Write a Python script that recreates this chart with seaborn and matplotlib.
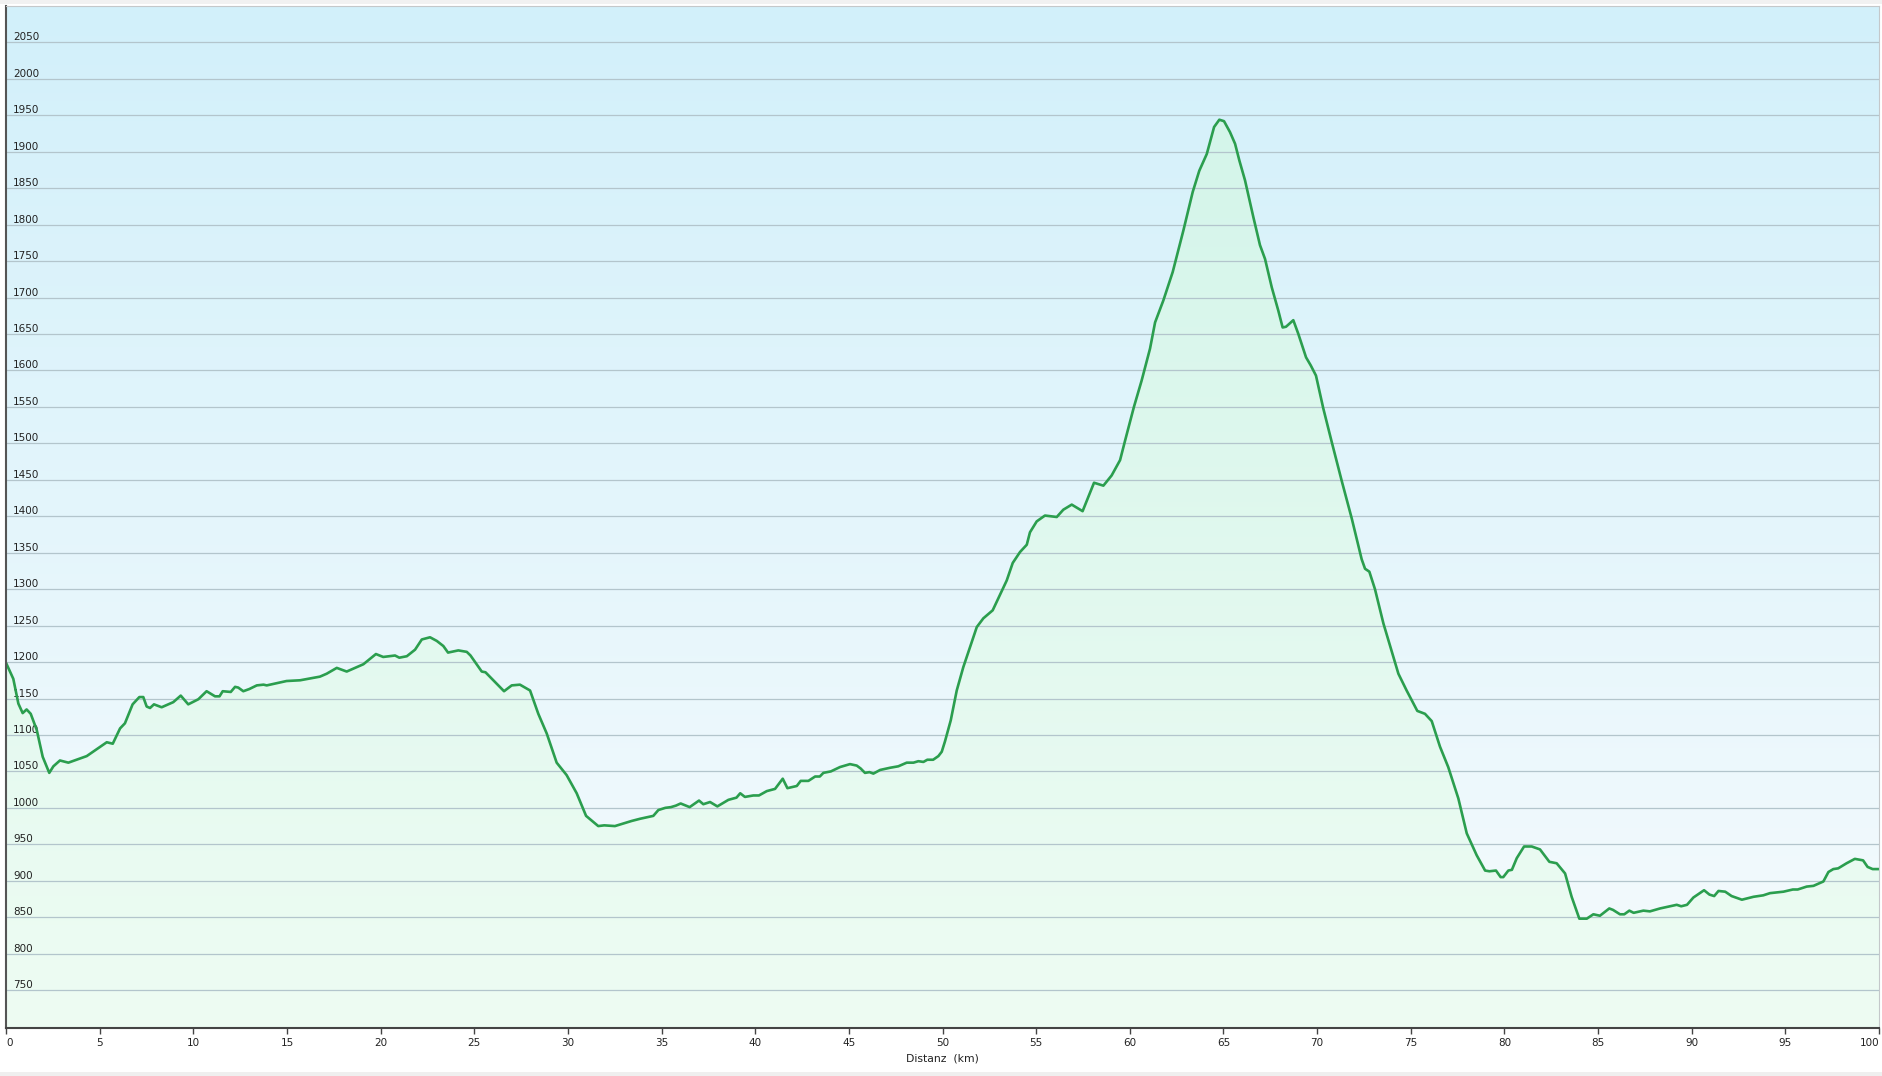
import numpy as np
import pandas as pd
import matplotlib
matplotlib.use('Agg')
import matplotlib.pyplot as plt
import seaborn as sns
from matplotlib.patches import PathPatch, Rectangle

# Höhenprofil - Distanz (km) und Höhe (m)
distanz_km = [
    0, 0.39, 0.66, 0.89, 1.1, 1.32, 1.64, 1.96, 2.31, 2.53, 2.88, 3.33, 4.31, 5.38, 5.7,
    6.09, 6.35, 6.76, 7.12, 7.33, 7.51, 7.69, 7.9, 8.31, 8.93, 9.33, 9.73, 10.27, 10.71,
    11.16, 11.4, 11.57, 12.0, 12.23, 12.4, 12.67, 12.99, 13.39, 13.75, 13.92, 14.45, 14.98,
    15.7, 16.76, 17.12, 17.66, 18.19, 19.08, 19.75, 20.14, 20.77, 21.0, 21.4, 21.84, 22.2,
    22.64, 23.0, 23.35, 23.6, 24.15, 24.6, 24.8, 25.4, 25.6, 26.59, 27.0, 27.44, 27.98,
    28.42, 28.87, 29.4, 29.93, 30.47, 30.97, 31.62, 31.94, 32.51, 33.4, 33.85, 34.38, 34.56,
    34.83, 35.2, 35.5, 35.76, 36.02, 36.5, 37.0, 37.23, 37.59, 37.98, 38.57, 39.0, 39.2,
    39.45, 39.9, 40.2, 40.62, 41.06, 41.47, 41.72, 42.22, 42.43, 42.84, 43.2, 43.45, 43.64,
    44.04, 44.53, 45.06, 45.42, 45.63, 45.86, 46.1, 46.31, 46.67, 47.2, 47.64, 48.09, 48.45,
    48.71, 48.98, 49.19, 49.5, 49.78, 49.96, 50.13, 50.44, 50.76, 51.11, 51.83, 52.18, 52.68,
    53.43, 53.75, 54.14, 54.5, 54.67, 55.03, 55.47, 56.1, 56.45, 56.9, 57.48, 58.09, 58.59,
    59.03, 59.48, 59.75, 60.22, 60.63, 61.08, 61.35, 61.79, 62.29, 62.86, 63.36, 63.71, 64.11,
    64.5, 64.78, 65.03, 65.35, 65.62, 65.85, 66.15, 66.6, 66.95, 67.22, 67.58, 67.93, 68.16,
    68.34, 68.73, 69.0, 69.41, 69.66, 69.94, 70.33, 70.78, 71.31, 71.85, 72.38, 72.56, 72.79,
    73.09, 73.54, 74.34, 74.78, 75.35, 75.76, 76.12, 76.56, 77.0, 77.54, 77.99, 78.52, 78.97,
    79.2, 79.55, 79.8, 79.94, 80.21, 80.4, 80.66, 81.05, 81.46, 81.9, 82.4, 82.79, 83.24,
    83.59, 84.0, 84.4, 84.75, 85.1, 85.6, 85.8, 86.17, 86.4, 86.67, 86.9, 87.42, 87.77, 88.31,
    88.85, 89.2, 89.44, 89.75, 90.09, 90.66, 90.95, 91.2, 91.43, 91.79, 92.13, 92.68, 93.3,
    93.82, 94.18, 94.9, 95.4, 95.66, 96.14, 96.5, 97.03, 97.3, 97.56, 97.82, 98.27, 98.71,
    99.15, 99.39, 99.66, 100,
]
hoehe_m = [
    1199, 1177, 1143, 1130, 1135, 1129, 1107, 1070, 1048, 1057, 1065, 1062, 1071, 1090, 1088,
    1109, 1116, 1142, 1152, 1152, 1139, 1137, 1142, 1138, 1145, 1154, 1142, 1149, 1160,
    1153, 1153, 1160, 1159, 1166, 1165, 1160, 1163, 1168, 1169, 1168, 1171, 1174,
    1175, 1180, 1184, 1192, 1187, 1197, 1211, 1207, 1209, 1206, 1208, 1217, 1231,
    1234, 1229, 1222, 1213, 1216, 1214, 1209, 1187, 1186, 1160, 1168, 1169, 1161,
    1129, 1102, 1062, 1045, 1020, 989, 975, 976, 975, 982, 985, 988, 989,
    997, 1000, 1001, 1003, 1006, 1001, 1010, 1005, 1008, 1002, 1011, 1014, 1020,
    1015, 1017, 1017, 1023, 1026, 1040, 1027, 1030, 1037, 1037, 1043, 1043, 1048,
    1050, 1056, 1060, 1058, 1054, 1048, 1049, 1047, 1052, 1055, 1057, 1062, 1062,
    1064, 1063, 1066, 1066, 1071, 1077, 1091, 1120, 1161, 1193, 1248, 1260, 1271,
    1312, 1336, 1351, 1361, 1378, 1393, 1401, 1399, 1409, 1416, 1407, 1446, 1442,
    1456, 1477, 1504, 1550, 1586, 1630, 1666, 1696, 1735, 1792, 1845, 1874, 1897,
    1934, 1944, 1942, 1927, 1911, 1888, 1861, 1810, 1772, 1753, 1714, 1682, 1659,
    1660, 1669, 1650, 1618, 1607, 1593, 1548, 1502, 1449, 1397, 1341, 1328, 1324,
    1300, 1253, 1184, 1161, 1133, 1129, 1119, 1084, 1056, 1013, 965, 935, 914,
    913, 914, 905, 905, 914, 915, 931, 947, 947, 943, 926, 924, 910,
    878, 848, 848, 854, 852, 862, 860, 854, 854, 859, 856, 859, 858, 862,
    865, 867, 865, 867, 877, 887, 881, 879, 886, 885, 879, 874, 878,
    880, 883, 885, 888, 888, 892, 893, 899, 912, 916, 917, 924, 930,
    928, 919, 916, 916,
]
x_ticks = list(range(0, 101, 5))
y_ticks = list(range(750, 2051, 50))

df = pd.DataFrame({'distanz': distanz_km, 'hoehe': hoehe_m})

sns.set_style('white')
plt.rcParams['font.family'] = ['DejaVu Sans']

fig = plt.figure(figsize=(18.82, 10.76), dpi=100, facecolor='white')
ax = fig.add_axes([6 / 1882, 48 / 1076, 1873 / 1882, 1022 / 1076])

y_min, y_max = 698, 2100
ax.set_xlim(0, 100)
ax.set_ylim(y_min, y_max)

# Hintergrund: Verlauf von hellblau (oben) nach fast weiss (unten)
top_c = np.array([210, 240, 250]) / 255
bot_c = np.array([246, 251, 253]) / 255
t = np.linspace(0, 1, 256)[:, None]
bg = top_c * (1 - t) + bot_c * t
ax.imshow(bg[:, None, :], extent=[0, 1, 0, 1], transform=ax.transAxes,
          aspect='auto', zorder=0, interpolation='bicubic')

# Fläche unter der Kurve mit grünlichem Verlauf
fill = ax.fill_between(df['distanz'], df['hoehe'], y_min, color='none', linewidth=0)
clip = PathPatch(fill.get_paths()[0], transform=ax.transData, facecolor='none', edgecolor='none')
ax.add_patch(clip)
f_top = np.array([212, 245, 234]) / 255
f_bot = np.array([238, 252, 243]) / 255
t2 = np.linspace(0, 1, 256)[:, None]
fg = f_top * (1 - t2) + f_bot * t2
im = ax.imshow(fg[:, None, :], extent=[0, 100, y_min, 1950], aspect='auto',
               zorder=1, interpolation='bicubic')
im.set_clip_path(clip)
ax.set_xlim(0, 100)
ax.set_ylim(y_min, y_max)

# Gitterlinien
for v in y_ticks:
    ax.axhline(v, color='#b3c5cc', linewidth=0.9, zorder=2)

sns.lineplot(data=df, x='distanz', y='hoehe', ax=ax, color='#2b9e4e',
             linewidth=1.9, zorder=3, estimator=None, sort=False)

# Achsen
ax.set_axisbelow(False)
ax.set_xticks(x_ticks)
ax.set_xticklabels([str(v) for v in x_ticks])
ax.set_yticks(y_ticks)
ax.set_yticklabels([str(v) for v in y_ticks])
ax.tick_params(axis='x', direction='out', length=4.5, width=1, color='#444444',
               pad=2.5, labelsize=7.5, labelcolor='#222222', bottom=True)
ax.tick_params(axis='y', length=0, pad=-5, labelsize=7.5, labelcolor='#222222', left=False)
for lab in ax.get_yticklabels():
    lab.set_horizontalalignment('left')
    lab.set_verticalalignment('bottom')
xlabs = ax.get_xticklabels()
xlabs[0].set_horizontalalignment('left')
xlabs[-1].set_horizontalalignment('right')
ax.set_xlabel('Distanz  (km)', fontsize=7.8, color='#222222', labelpad=4)
ax.set_ylabel('')

ax.spines['left'].set_color('#555555')
ax.spines['left'].set_linewidth(1.5)
ax.spines['bottom'].set_color('#444444')
ax.spines['bottom'].set_linewidth(1.5)
for s in ['top', 'right']:
    ax.spines[s].set_color('#c4c8ca')
    ax.spines[s].set_linewidth(0.8)
for s in ax.spines.values():
    s.set_zorder(4)

# hellgraue Streifen oben und unten
fig.add_artist(Rectangle((0, 1 - 4 / 1076), 1, 4 / 1076, transform=fig.transFigure,
                         facecolor='#f1f1f1', edgecolor='none'))
fig.add_artist(Rectangle((0, 0), 1, 4 / 1076, transform=fig.transFigure,
                         facecolor='#efefef', edgecolor='none'))

fig.savefig('out.png', dpi=100, facecolor='white')
